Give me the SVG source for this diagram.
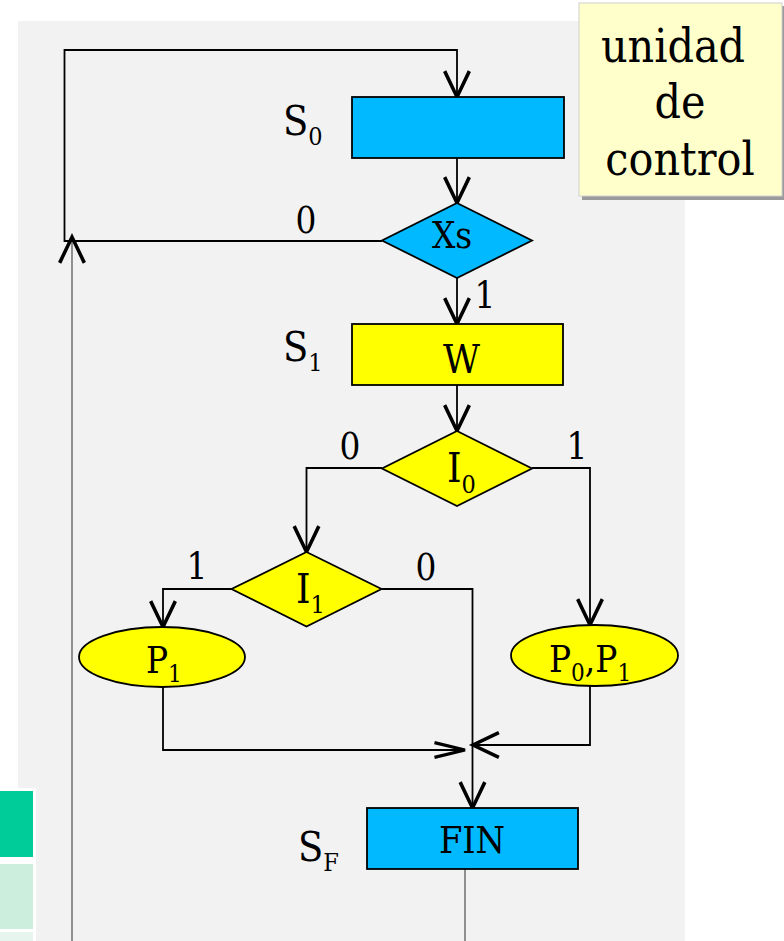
<svg xmlns="http://www.w3.org/2000/svg" width="784" height="941" viewBox="0 0 784 941">
<style>
.t{font-family:"DejaVu Serif Condensed","DejaVu Serif",serif;font-stretch:condensed;fill:#000}
.ln{fill:none;stroke:#000;stroke-width:1.8}
.lg{fill:none;stroke:#666;stroke-width:1.4}
.blue{fill:#00b9ff;stroke:#000;stroke-width:1.8}
.yel{fill:#ffff00;stroke:#000;stroke-width:1.8}
</style>
<defs>
<marker id="arr" markerUnits="userSpaceOnUse" markerWidth="40" markerHeight="40" viewBox="-30 -15 34 30" refX="0" refY="0" orient="auto" overflow="visible">
<path d="M-22,-10.5 L0,0 L-22,10.5" fill="none" stroke="#000" stroke-width="3"/>
</marker>
<marker id="arrf" markerUnits="userSpaceOnUse" markerWidth="40" markerHeight="40" viewBox="-34 -15 38 30" refX="0" refY="0" orient="auto" overflow="visible">
<path d="M-29,-7 L0,0 L-29,7" fill="none" stroke="#000" stroke-width="3"/>
</marker>
</defs>
<rect x="0" y="0" width="784" height="941" fill="#fff"/>
<rect x="18" y="21" width="667" height="920" fill="#f2f2f2"/>
<g id="side-tabs">
<rect x="0" y="788" width="36" height="153" fill="#fff"/>
<rect x="0" y="791" width="33" height="66" fill="#00cc99"/>
<rect x="0" y="864" width="33" height="65" fill="#cceedd"/>
<rect x="0" y="932" width="33" height="9" fill="#e6f6ef"/>
</g>
<g id="note">
<rect x="582" y="6" width="203" height="194" fill="#9a9a9a"/>
<rect x="579" y="3" width="203" height="193" fill="#ffffcc" stroke="#d0d0d0" stroke-width="1"/>
<text class="t" x="673" y="62" font-size="46" text-anchor="middle">unidad</text>
<text class="t" x="680" y="118" font-size="46" text-anchor="middle">de</text>
<text class="t" x="680" y="175" font-size="46" text-anchor="middle">control</text>
</g>
<g id="connectors">
<path class="ln" d="M382,241 H64.5 V50 H457 V97" marker-end="url(#arr)"/>
<path class="lg" d="M72,941 V237" marker-end="url(#arr)"/>
<path class="ln" d="M457,158 V203" marker-end="url(#arr)"/>
<path class="ln" d="M457,278 V324" marker-end="url(#arr)"/>
<path class="ln" d="M457,385 V431" marker-end="url(#arr)"/>
<path class="ln" d="M382,468 H306.5 V552" marker-end="url(#arr)"/>
<path class="ln" d="M532,468 H590 V625" marker-end="url(#arr)"/>
<path class="ln" d="M231.5,589 H163 V627" marker-end="url(#arr)"/>
<path class="ln" d="M381.5,589 H472.5 V808" marker-end="url(#arr)"/>
<path class="ln" d="M163,687 V750 H465" marker-end="url(#arrf)"/>
<path class="ln" d="M590,686 V745 H473" marker-end="url(#arr)"/>
<path class="lg" d="M465,869 V941"/>
<text class="t" x="306" y="233" font-size="36.5" text-anchor="middle">0</text>
<text class="t" x="485" y="308" font-size="36.5" text-anchor="middle">1</text>
<text class="t" x="350" y="459" font-size="36.5" text-anchor="middle">0</text>
<text class="t" x="577" y="459" font-size="36.5" text-anchor="middle">1</text>
<text class="t" x="197" y="579" font-size="36.5" text-anchor="middle">1</text>
<text class="t" x="426" y="580" font-size="36.5" text-anchor="middle">0</text>
</g>
<g id="S0">
<rect class="blue" x="352" y="97" width="212" height="61"/>
<text class="t" x="283" y="135" font-size="41">S<tspan font-size="25" dy="10">0</tspan></text>
</g>
<g id="Xs">
<polygon class="blue" points="457,203 532,240.5 457,278 382,240.5"/>
<text class="t" x="452" y="248" font-size="36.5" text-anchor="middle">Xs</text>
</g>
<g id="S1">
<rect class="yel" x="352" y="324" width="211" height="61"/>
<text class="t" x="461.5" y="373" font-size="40" text-anchor="middle">W</text>
<text class="t" x="283" y="361" font-size="41">S<tspan font-size="25" dy="10">1</tspan></text>
</g>
<g id="I0">
<polygon class="yel" points="457,431 532,468.5 457,506 382,468.5"/>
<text class="t" x="447" y="482" font-size="41">I<tspan font-size="25" dy="11">0</tspan></text>
</g>
<g id="I1">
<polygon class="yel" points="306.5,552 381.5,589 306.5,626.5 231.5,589"/>
<text class="t" x="296" y="603" font-size="41">I<tspan font-size="25" dy="10">1</tspan></text>
</g>
<g id="P1">
<ellipse class="yel" cx="162" cy="657" rx="83" ry="30"/>
<text class="t" x="146" y="673" font-size="36.5">P<tspan font-size="24" dy="9">1</tspan></text>
</g>
<g id="P0P1">
<ellipse class="yel" cx="594.5" cy="655.5" rx="83.5" ry="30.5"/>
<text class="t" x="549" y="672" font-size="36.5">P<tspan font-size="24" dy="9">0</tspan><tspan dy="-9">,P</tspan><tspan font-size="24" dy="9">1</tspan></text>
</g>
<g id="SF">
<rect class="blue" x="367" y="808" width="211" height="61"/>
<text class="t" x="472" y="853" font-size="37.5" text-anchor="middle">FIN</text>
<text class="t" x="298" y="861" font-size="41">S<tspan font-size="25" dy="10">F</tspan></text>
</g>
</svg>
